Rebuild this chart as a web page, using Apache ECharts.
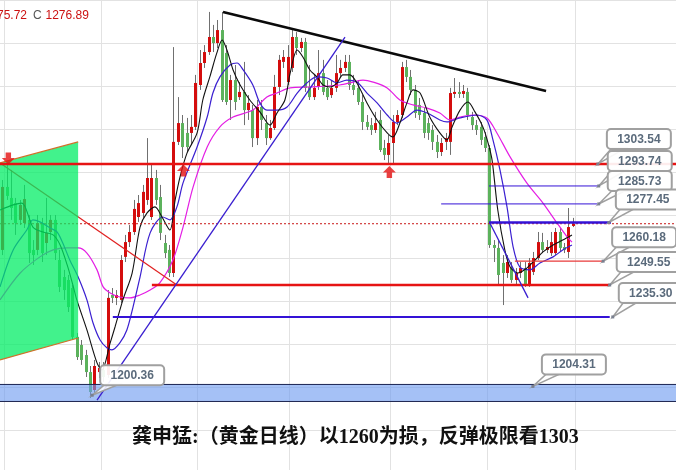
<!DOCTYPE html>
<html>
<head>
<meta charset="utf-8">
<title>黄金日线</title>
<script src="https://cdn.jsdelivr.net/npm/echarts@6/dist/echarts.min.js"></script>
<style>
html,body{margin:0;padding:0;background:#fff;}
#chart{width:676px;height:470px;}
</style>
</head>
<body>
<div id="chart"></div>
<script>
// ---------------- data ----------------
const opens = [1265.2,1293.3,1288.4,1286.1,1278.6,1277.2,1278.6,1265.2,1265.2,1277.2,
1268.3,1273.2,1278.6,1260.7,1253.1,1251.8,1248.2,1226.4,1222.8,1218.3,
1210.7,1202.7,1210.7,1211.6,1209.4,1245.1,1243.8,1242.9,1262.1,1268.7,
1273.2,1279.9,1281.7,1287.5,1279.9,1297.3,1288.8,1268.3,1265.2,1254.9,
1313.4,1321.8,1317.4,1317.4,1320.1,1338.8,1348.6,1353.5,1360.2,1357.5,
1363.3,1353.1,1332.1,1341.0,1333.4,1335.7,1327.6,1327.6,1315.1,1329.0,
1321.8,1315.1,1319.6,1337.9,1349.1,1340.1,1346.4,1360.2,1355.3,1358.0,
1337.9,1333.4,1337.9,1344.1,1337.5,1334.3,1337.5,1344.1,1346.4,1349.1,
1338.8,1337.5,1331.2,1322.3,1320.9,1318.7,1323.2,1310.7,1307.6,1312.9,
1322.3,1325.4,1346.8,1342.4,1336.6,1329.9,1326.3,1321.8,1318.7,1313.4,
1308.9,1313.4,1313.4,1334.8,1335.7,1334.8,1335.7,1324.5,1320.9,1320.1,
1315.6,1310.7,1267.4,1266.1,1259.4,1254.9,1257.1,1251.8,1254.9,1257.1,
1250.0,1255.4,1261.6,1268.7,1265.2,1263.8,1263.8,1273.2,1266.5,1264.3,
1275.9];
const closes = [1293.3,1289.3,1283.9,1277.2,1285.3,1287.9,1263.8,1262.9,1277.2,1263.8,
1272.8,1278.6,1263.8,1248.7,1247.3,1239.7,1226.4,1217.4,1216.1,1210.7,
1201.8,1213.4,1212.5,1208.5,1243.8,1243.8,1245.1,1260.7,1268.7,1273.2,
1283.5,1286.1,1291.1,1297.3,1297.3,1287.5,1272.8,1263.8,1254.9,1313.4,
1321.8,1311.1,1311.1,1320.1,1339.7,1348.6,1353.5,1360.2,1357.5,1363.3,
1332.1,1331.2,1341.0,1331.2,1335.7,1327.6,1330.8,1315.1,1329.0,1323.2,
1315.1,1319.6,1337.9,1350.0,1351.3,1351.3,1360.2,1355.3,1358.0,1337.5,
1333.4,1337.5,1344.1,1335.7,1333.4,1337.5,1344.1,1346.4,1349.1,1338.8,
1336.6,1331.2,1322.3,1320.1,1318.7,1321.8,1309.8,1307.6,1312.9,1322.3,
1325.4,1346.8,1342.4,1336.6,1326.3,1325.4,1317.4,1317.4,1313.4,1308.9,
1312.9,1315.1,1335.2,1335.7,1334.8,1336.1,1325.4,1320.9,1318.7,1314.3,
1310.7,1267.4,1266.1,1254.0,1254.9,1259.8,1251.8,1254.9,1257.1,1250.0,
1259.4,1261.6,1268.7,1265.2,1266.5,1268.7,1273.2,1266.1,1265.2,1275.4,
1276.9];
const lows = [1262.9,1287.5,1278.6,1271.9,1276.3,1275.0,1259.4,1258.5,1262.9,1259.8,
1262.9,1269.6,1260.7,1246.4,1242.9,1237.5,1225.0,1216.1,1213.9,1208.5,
1199.1,1200.5,1208.1,1206.3,1208.1,1241.5,1240.6,1241.5,1259.8,1266.5,
1271.9,1277.7,1279.5,1285.3,1278.6,1285.3,1269.6,1261.6,1253.1,1253.1,
1312.0,1306.2,1308.9,1312.0,1318.7,1336.6,1346.4,1352.2,1353.5,1355.3,
1331.2,1329.9,1323.2,1327.6,1332.1,1320.9,1323.2,1311.1,1312.0,1318.7,
1312.0,1314.3,1318.7,1334.3,1346.4,1338.8,1344.6,1352.2,1353.5,1335.7,
1332.1,1332.1,1336.6,1334.3,1332.1,1333.0,1335.7,1342.4,1344.6,1336.6,
1334.3,1329.9,1318.7,1318.7,1316.5,1317.4,1308.9,1305.3,1304.0,1304.0,
1320.9,1324.1,1340.1,1334.3,1324.1,1323.2,1315.1,1314.3,1309.8,1306.2,
1307.1,1309.8,1307.6,1333.0,1333.0,1333.0,1323.2,1318.7,1316.5,1312.0,
1308.9,1266.1,1259.8,1249.6,1240.6,1252.7,1250.5,1249.6,1252.7,1248.7,
1248.7,1254.0,1260.7,1263.8,1263.8,1262.5,1262.9,1264.3,1263.8,1261.6,
1275.4];
const highs = [1296.4,1303.1,1300.9,1288.4,1287.5,1294.2,1280.8,1269.6,1280.8,1279.5,
1288.4,1280.8,1280.8,1265.2,1256.3,1254.0,1249.6,1228.1,1225.0,1220.6,
1213.4,1216.1,1215.2,1215.2,1247.3,1248.2,1247.3,1262.9,1271.9,1276.3,
1287.5,1289.7,1294.2,1315.1,1303.1,1300.9,1294.2,1271.9,1267.4,1355.7,
1333.4,1325.4,1324.1,1325.4,1343.3,1354.4,1356.6,1371.4,1365.6,1367.8,
1371.4,1356.6,1343.3,1347.7,1340.1,1349.1,1334.3,1329.9,1332.1,1332.1,
1325.4,1323.2,1343.3,1352.2,1354.4,1356.6,1363.3,1362.4,1359.8,1359.8,
1347.7,1343.3,1354.4,1350.0,1341.0,1341.0,1352.2,1350.0,1352.2,1352.2,
1343.3,1341.0,1334.3,1325.4,1324.1,1326.8,1327.6,1314.3,1316.5,1325.4,
1327.6,1349.1,1350.0,1345.5,1338.8,1333.0,1328.5,1324.1,1320.9,1316.5,
1315.1,1317.4,1337.5,1341.9,1340.1,1338.8,1337.5,1326.8,1323.2,1322.3,
1317.8,1312.0,1269.6,1269.6,1262.9,1262.9,1259.8,1257.1,1259.8,1259.8,
1261.6,1264.3,1273.2,1272.8,1269.6,1273.2,1275.0,1275.0,1268.3,1283.9,
1279.5];

// moving-average lines, read as [bar position, price]
const maFast = [[-0.5,1283.0],[2.5,1285.3],[4.5,1286.1],[7.0,1275.4],[9.3,1273.2],[11.6,1271.9],[13.2,1267.4],[14.8,1258.5],[16.1,1249.6],[17.0,1242.9],[19.3,1229.5],[21.6,1214.8],[22.7,1211.6],[24.6,1223.7],[25.7,1230.8],[27.5,1242.9],[29.6,1254.9],[31.4,1275.4],[33.0,1281.7],[34.8,1284.4],[36.4,1279.9],[38.2,1274.1],[39.4,1287.5],[40.5,1297.7],[42.1,1308.4],[44.4,1317.4],[45.7,1332.1],[47.3,1342.4],[48.9,1353.1],[50.1,1358.9],[51.2,1354.4],[52.6,1345.5],[54.2,1338.8],[56.4,1332.1],[58.7,1326.8],[61.0,1320.9],[62.6,1326.3],[64.4,1332.1],[65.6,1344.1],[67.2,1354.4],[68.5,1351.3],[70.1,1345.5],[71.7,1342.4],[73.1,1338.8],[74.7,1337.9],[76.3,1339.7],[77.6,1343.3],[79.2,1343.3],[80.8,1339.7],[83.1,1330.8],[85.4,1323.2],[87.7,1317.4],[89.0,1315.6],[90.6,1321.8],[92.2,1330.8],[93.6,1336.6],[95.2,1335.2],[97.4,1324.5],[99.7,1317.4],[101.3,1314.3],[102.5,1320.1],[104.3,1327.6],[106.1,1331.2],[107.7,1326.8],[109.5,1320.1],[110.7,1312.9],[111.6,1305.3],[112.9,1283.0],[114.5,1265.2],[115.7,1257.6],[117.5,1254.9],[119.5,1257.1],[121.4,1260.7],[123.2,1264.3],[125.5,1267.4],[127.7,1269.6],[129.8,1271.9]];
const maMid = [[-0.5,1248.7],[2.5,1265.2],[5.6,1274.1],[7.0,1278.6],[8.6,1277.7],[10.9,1275.0],[12.5,1273.2],[13.8,1268.3],[15.4,1260.7],[17.3,1253.1],[19.3,1242.9],[20.7,1232.6],[22.3,1225.0],[23.9,1221.4],[25.0,1220.6],[26.8,1223.7],[28.4,1229.5],[29.8,1239.7],[31.4,1253.1],[33.7,1272.8],[36.6,1279.9],[38.2,1278.6],[39.8,1284.4],[41.2,1295.1],[44.4,1311.1],[46.7,1324.5],[48.0,1335.2],[49.6,1342.4],[51.9,1347.7],[53.5,1348.6],[54.9,1345.5],[57.1,1338.8],[58.7,1330.8],[60.3,1327.6],[62.6,1327.6],[64.9,1329.0],[67.2,1335.2],[69.4,1339.7],[71.7,1342.4],[74.0,1341.9],[76.3,1339.7],[78.5,1341.0],[80.8,1340.1],[83.1,1335.2],[85.4,1330.8],[87.7,1325.4],[89.9,1321.8],[92.2,1324.5],[94.5,1327.6],[96.8,1326.3],[99.7,1323.2],[101.3,1322.3],[104.3,1324.1],[108.2,1325.4],[110.4,1323.2],[111.8,1314.3],[113.4,1300.9],[115.0,1284.4],[116.4,1266.5],[117.9,1257.6],[120.2,1256.3],[122.5,1259.4],[125.5,1262.1],[127.7,1265.2],[129.8,1267.4]];
const maSlow = [[-0.5,1242.9],[4.1,1254.9],[8.6,1262.1],[11.6,1265.2],[14.8,1266.1],[17.3,1266.1],[19.3,1263.8],[21.6,1256.3],[23.0,1248.7],[24.6,1246.0],[26.8,1244.2],[29.1,1243.8],[31.4,1245.1],[33.7,1247.3],[35.9,1250.5],[38.9,1260.7],[41.2,1275.4],[43.5,1293.3],[46.7,1311.1],[49.6,1320.1],[52.6,1324.5],[57.1,1327.6],[60.3,1333.4],[62.6,1335.2],[65.6,1337.5],[70.1,1337.9],[76.9,1338.8],[79.9,1340.1],[82.2,1341.0],[84.5,1340.1],[87.7,1337.5],[90.6,1332.1],[93.6,1329.9],[96.8,1328.5],[99.7,1326.3],[102.0,1323.2],[104.3,1324.5],[107.2,1325.4],[110.4,1324.1],[112.7,1317.4],[115.7,1306.7],[119.5,1295.1],[123.2,1286.1],[126.4,1277.2],[128.7,1271.0],[129.8,1268.7]];

// price levels written in the callouts
const levelValues = [1303.54, 1293.74, 1285.73, 1277.45, 1260.18, 1249.55, 1235.30, 1204.31, 1200.36];
const lastClose = 1276.89;
const headerPrev = '75.72';
const titleText = '龚申猛:（黄金日线）以1260为损，反弹极限看1303';
const monthStarts = [1, 23, 45, 66, 89, 111, 131];
const slotCount = 154;

// ---------------- drawings (annotation geometry in bar/price units) ----------------
const trendTop = [[50.3, 1371.4], [123.9, 1336.1]];
const trendUp = [[21.6, 1198.2], [78.1, 1360.2]];
const trendRed = [[-0.5, 1304.0], [39.8, 1249.6]];
const trendDown = [[111.1, 1277.2], [119.8, 1243.8]];
const greenBox = [[-0.5, 1304.0], [17.3, 1313.4], [17.3, 1225.9], [-0.5, 1216.1]];
const band = [1205.4, 1197.8];
const hLineSpans = [
  {v: 1303.54, from: -0.5, to: 153.5, color: '#e61414', w: 2.5},
  {v: 1249.55, from: 34.1, to: 138.4, color: '#e61414', w: 2.5},
  {v: 1235.30, from: 25.2, to: 138.4, color: '#3412d6', w: 2},
  {v: 1293.74, from: 110.9, to: 135.7, color: '#3412d6', w: 1},
  {v: 1285.73, from: 100.0, to: 135.5, color: '#3412d6', w: 1},
  {v: 1277.45, from: 110.9, to: 138.7, color: '#3412d6', w: 2.5},
  {v: 1260.18, from: 116.8, to: 136.9, color: '#e83a3a', w: 1.2}
];
const calloutAnchorX = [135.7, 135.9, 135.9, 138.2, 136.9, 138.4, 139.1, 120.9, 20.5];
const calloutOffset = [[9,-35],[9,-35],[9,-33],[7,-33],[9,-34],[7,-33],[6,-34],[9,-32],[8,-30]];
const downArrows = [[1.4, 1306.0]];
const upArrows = [[41.3, 1300.6], [88.2, 1300.0]];

// ---------------- chart ----------------
const RED = '#d40d0d', GREEN = '#5cb25c';
const slots = Array.from({length: slotCount}, (_, i) => String(i));
const candleData = opens.map((o, i) => [i, o, closes[i], lows[i], highs[i]]);

function seg(points, color, width, z, dash) {
  return {type: 'line', xAxisIndex: 1, yAxisIndex: 0, data: points, symbol: 'none',
    silent: true, animation: false, z: z,
    lineStyle: {color: color, width: width, type: dash || 'solid'}};
}

const series = [];
// candles
series.push({
  type: 'custom', xAxisIndex: 0, yAxisIndex: 0, z: 3, data: candleData, animation: false,
  renderItem: function (params, api) {
    const i = api.value(0), o = api.value(1), c = api.value(2), l = api.value(3), h = api.value(4);
    const pO = api.coord([i, o]), pC = api.coord([i, c]), pL = api.coord([i, l]), pH = api.coord([i, h]);
    const x = Math.round(pO[0]) + 0.5;
    const top = Math.min(pO[1], pC[1]), bot = Math.max(pO[1], pC[1]);
    return {type: 'group', children: [
      {type: 'line', shape: {x1: x, y1: pH[1], x2: x, y2: pL[1]}, style: {stroke: '#707070', lineWidth: 1}},
      {type: 'rect', shape: {x: x - 1.5, y: top, width: 3, height: Math.max(1, bot - top)},
        style: {fill: c >= o ? RED : GREEN}}
    ]};
  }
});
// moving averages
series.push(Object.assign(seg(maSlow, '#e41ee4', 1.2, 4), {smooth: 0.3}));
series.push(Object.assign(seg(maMid, '#3a1fd0', 1.2, 4), {smooth: 0.3}));
series.push(Object.assign(seg(maFast, '#111111', 1.1, 4), {smooth: 0.3}));
// current-price dotted line
series.push(seg([[-0.5, lastClose], [153.5, lastClose]], '#c81818', 1, 4, [2, 2]));
// red diagonal (under green box)
series.push(seg(trendRed, '#e02020', 1.2, 4));
// blue band
series.push({
  type: 'custom', xAxisIndex: 1, yAxisIndex: 0, z: 5, data: [0], animation: false, silent: true,
  renderItem: function (params, api) {
    const a = api.coord([-0.5, band[0]]), b = api.coord([153.5, band[1]]);
    return {type: 'group', children: [
      {type: 'rect', shape: {x: a[0], y: a[1], width: b[0] - a[0], height: b[1] - a[1]},
        style: {fill: 'rgba(110,155,240,0.62)'}},
      {type: 'line', shape: {x1: a[0], y1: a[1] + 0.5, x2: b[0], y2: a[1] + 0.5}, style: {stroke: '#1c2450', lineWidth: 1}},
      {type: 'line', shape: {x1: a[0], y1: b[1] + 0.5, x2: b[0], y2: b[1] + 0.5}, style: {stroke: '#1c2450', lineWidth: 1}}
    ]};
  }
});
// green box
series.push({
  type: 'custom', xAxisIndex: 1, yAxisIndex: 0, z: 6, data: [0], animation: false, silent: true,
  renderItem: function (params, api) {
    const pts = greenBox.map(p => api.coord(p));
    return {type: 'group', children: [
      {type: 'polygon', shape: {points: pts}, style: {fill: 'rgba(0,238,100,0.74)'}},
      {type: 'line', shape: {x1: pts[0][0], y1: pts[0][1], x2: pts[1][0], y2: pts[1][1]}, style: {stroke: '#d0702a', lineWidth: 1.2}},
      {type: 'line', shape: {x1: pts[3][0], y1: pts[3][1], x2: pts[2][0], y2: pts[2][1]}, style: {stroke: '#d0702a', lineWidth: 1.2}}
    ]};
  }
});
// horizontal level lines
hLineSpans.forEach(s => series.push(seg([[s.from, s.v], [s.to, s.v]], s.color, s.w, 7)));
// trendlines
series.push(seg(trendTop, '#0a0a0a', 2.5, 7));
series.push(seg(trendUp, '#3a1fd0', 1.3, 7));
series.push(seg(trendDown, '#3a1fd0', 1.3, 7));
// arrows
series.push({type: 'scatter', xAxisIndex: 1, yAxisIndex: 0, z: 8, data: downArrows, silent: true, animation: false,
  symbol: 'path://M3.5,0 L8.5,0 L8.5,5.5 L12,5.5 L6,12 L0,5.5 L3.5,5.5 Z', symbolSize: [13, 12], itemStyle: {color: '#e31010'}});
series.push({type: 'scatter', xAxisIndex: 1, yAxisIndex: 0, z: 8, data: upArrows, silent: true, animation: false,
  symbol: 'path://M6,0 L12,6.5 L8.5,6.5 L8.5,12 L3.5,12 L3.5,6.5 L0,6.5 Z', symbolSize: [13, 12], itemStyle: {color: '#e31010'}});
// callouts
series.push({
  type: 'custom', xAxisIndex: 1, yAxisIndex: 0, z: 9, animation: false, silent: true,
  data: levelValues.map((v, k) => [calloutAnchorX[k], v]),
  renderItem: function (params, api) {
    const k = params.dataIndex;
    const p = api.coord([api.value(0), api.value(1)]);
    const off = calloutOffset[k];
    const bw = 64, bh = 20;
    const bx = p[0] + off[0], by = p[1] + off[1];
    return {type: 'group', children: [
      {type: 'polygon', shape: {points: [[p[0], p[1]], [bx + 5, by + bh - 1], [bx + 19, by + bh - 1]]},
        style: {fill: 'rgba(255,255,255,0.85)', stroke: '#a0a0a0', lineWidth: 1.5}},
      {type: 'rect', shape: {x: bx, y: by, width: bw, height: bh, r: 4},
        style: {fill: 'rgba(255,255,255,0.92)', stroke: '#a0a0a0', lineWidth: 2}},
      {type: 'rect', shape: {x: p[0] - 1.5, y: p[1] - 1.5, width: 3, height: 3}, style: {fill: '#7a8090'}},
      {type: 'text', style: {text: levelValues[k].toFixed(2), x: bx + bw / 2, y: by + bh / 2 + 0.5,
        align: 'center', verticalAlign: 'middle', textAlign: 'center', textVerticalAlign: 'middle',
        font: 'bold 12px "Liberation Sans", Arial, sans-serif', fill: '#5b6b7c'}}
    ]};
  }
});

const chart = echarts.init(document.getElementById('chart'), null, {renderer: 'canvas'});
chart.setOption({
  animation: false,
  backgroundColor: '#ffffff',
  grid: {left: 0, right: 0, top: 0, bottom: 0, containLabel: false},
  xAxis: [
    {type: 'category', data: slots, boundaryGap: true,
      axisLine: {show: false}, axisTick: {show: false}, axisLabel: {show: false},
      splitLine: {show: true, interval: function (i) { return monthStarts.indexOf(i) >= 0; },
        lineStyle: {color: '#e2e2e2', width: 1}}},
    {type: 'value', min: -0.5, max: slotCount - 0.5, show: false}
  ],
  yAxis: [
    {type: 'value', min: 1167.0, max: 1376.72, show: false},
    {type: 'value', min: 0, max: 470, inverse: true, interval: 43,
      axisLine: {show: false}, axisTick: {show: false}, axisLabel: {show: false},
      splitLine: {show: true, lineStyle: {color: '#e2e2e2', width: 1}}}
  ],
  graphic: [
    {type: 'text', x: 27, y: 16, z: 20, style: {text: headerPrev, textAlign: 'right', align: 'right',
      textVerticalAlign: 'middle', verticalAlign: 'middle', font: '12px "Liberation Sans", Arial, sans-serif', fill: '#cc1111'}},
    {type: 'text', x: 33, y: 16, z: 20, style: {text: 'C', textVerticalAlign: 'middle', verticalAlign: 'middle',
      font: '12px "Liberation Sans", Arial, sans-serif', fill: '#555555'}},
    {type: 'text', x: 45.5, y: 16, z: 20, style: {text: lastClose.toFixed(2), textVerticalAlign: 'middle', verticalAlign: 'middle',
      font: '12px "Liberation Sans", Arial, sans-serif', fill: '#cc1111'}},
    {type: 'text', x: 132, y: 438, z: 20, style: {text: titleText, textVerticalAlign: 'middle', verticalAlign: 'middle',
      font: 'bold 20px "Liberation Serif", "Noto Sans CJK SC", serif', fill: '#111111'}}
  ],
  series: series
});
</script>
</body>
</html>
